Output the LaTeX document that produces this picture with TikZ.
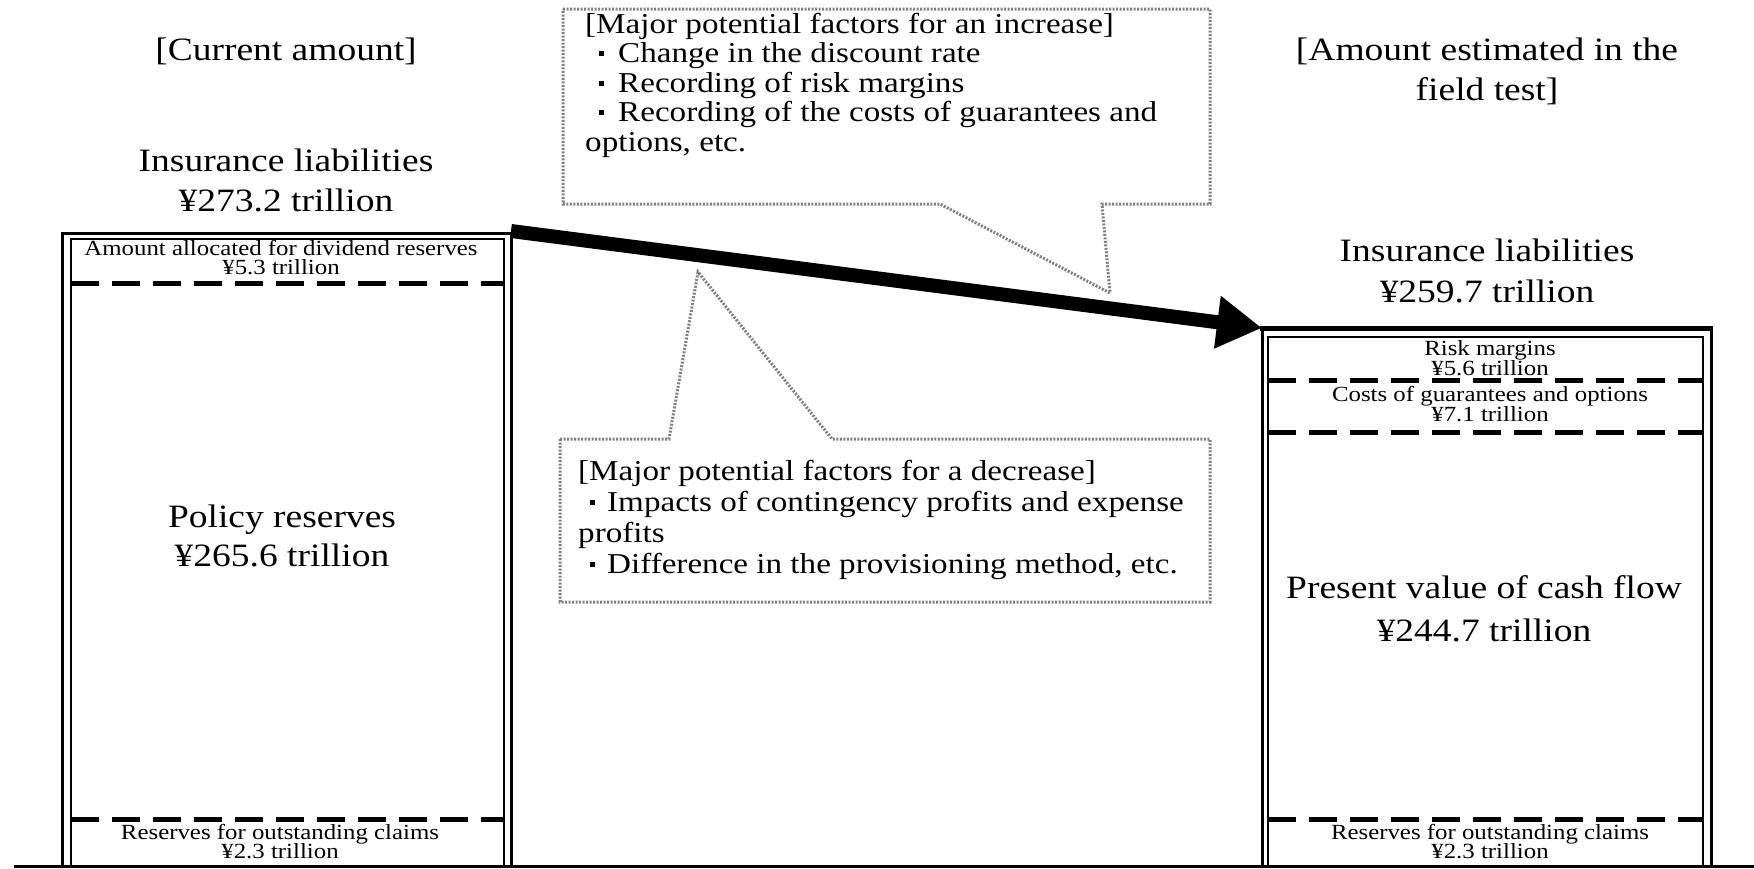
\documentclass[tikz,border=0pt]{standalone}
\usepackage{fontspec}
\setmainfont{Liberation Serif}[FakeStretch=1.15]
\usetikzlibrary{arrows.meta}
\newcommand\bulA{\makebox[33pt][c]{\rule[6.5pt]{4.5pt}{4.5pt}}}
\newcommand\bulB{\makebox[29pt][c]{\rule[6.5pt]{4.5pt}{4.5pt}}}
\begin{document}
\begin{tikzpicture}[x=1pt,y=-1pt,
  bigt/.style={inner sep=0pt, anchor=base, font=\fontsize{32.6}{40}\selectfont},
  smallt/.style={inner sep=0pt, anchor=base, font=\fontsize{21.6}{22}\selectfont},
  callt/.style={inner sep=0pt, anchor=base west, font=\fontsize{28.8}{30}\selectfont},
  outerframe/.style={line width=3pt},
  innerframe/.style={line width=2pt},
  sepline/.style={line width=5pt, dash pattern=on 28pt off 13pt},
  callout/.style={draw=black!50, line width=3pt, dash pattern=on 2pt off 1.5pt},
  bigarrow/.style={line width=14pt, -{Triangle[length=45pt,width=50pt]}},
]
\useasboundingbox (0,0) rectangle (1754,868);

% frames
\draw[outerframe] (62,866) -- (62,233) -- (511,233) -- (511,866);
\draw[innerframe] (71,866) -- (71,239) -- (504,239) -- (504,866);
\draw[outerframe] (1262,866) -- (1262,329) -- (1711,329) -- (1711,866);
\draw[line width=5pt] (1260,328) -- (1713,328);
\draw[innerframe] (1268,866) -- (1268,337) -- (1703,337) -- (1703,866);
\draw[outerframe] (14,866) -- (1754,866);

% separators
\draw[sepline] (71,283) -- (504,283);
\draw[sepline] (71,819) -- (504,819);
\draw[sepline] (1268,380) -- (1703,380);
\draw[sepline] (1268,432) -- (1703,432);
\draw[sepline] (1268,819) -- (1703,819);

% left texts
\node[bigt] (curhdr) at (286,60) {[Current amount]};
\node[bigt] (ilA) at (286,171) {Insurance liabilities};
\node[bigt] (ilAv) at (286,211) {¥273.2 trillion};
\node[smallt] (div) at (281,255) {Amount allocated for dividend reserves};
\node[smallt] (divv) at (281,274) {¥5.3 trillion};
\node[bigt] (pr) at (282,527) {Policy reserves};
\node[bigt] (prv) at (282,566) {¥265.6 trillion};
\node[smallt] (rocA) at (280,839) {Reserves for outstanding claims};
\node[smallt] (rocAv) at (280,858) {¥2.3 trillion};

% right texts
\node[bigt] (esthdrA) at (1487,60) {[Amount estimated in the};
\node[bigt] (esthdrB) at (1487,100) {field test]};
\node[bigt] (ilB) at (1487,261) {Insurance liabilities};
\node[bigt] (ilBv) at (1487,302) {¥259.7 trillion};
\node[smallt] (rm) at (1490,355) {Risk margins};
\node[smallt] (rmv) at (1490,375) {¥5.6 trillion};
\node[smallt] (cg) at (1490,401) {Costs of guarantees and options};
\node[smallt] (cgv) at (1490,421) {¥7.1 trillion};
\node[bigt] (pv) at (1484,598) {Present value of cash flow};
\node[bigt] (pvv) at (1484,641) {¥244.7 trillion};
\node[smallt] (rocB) at (1490,839) {Reserves for outstanding claims};
\node[smallt] (rocBv) at (1490,858) {¥2.3 trillion};

% callouts
\draw[callout] (563,9) -- (1210,9) -- (1210,204) -- (1102,204) -- (1110,293) -- (940,204) -- (563,204) -- cycle;
\draw[callout] (560,439) -- (669,439) -- (698,272) -- (832,439) -- (1210,439) -- (1210,602) -- (560,602) -- cycle;

\node[callt] (incA) at (585,33) {[Major potential factors for an increase]};
\node[callt] (incB) at (585,62) {\bulA Change in the discount rate};
\node[callt] (incC) at (585,92) {\bulA Recording of risk margins};
\node[callt] (incD) at (585,121) {\bulA Recording of the costs of guarantees and};
\node[callt] (incE) at (585,151) {options, etc.};

\node[callt] (decA) at (578,480) {[Major potential factors for a decrease]};
\node[callt] (decB) at (578,511) {\bulB Impacts of contingency profits and expense};
\node[callt] (decC) at (578,542) {profits};
\node[callt] (decD) at (578,573) {\bulB Difference in the provisioning method, etc.};

% big arrow
\coordinate (ltop) at (511,231);
\coordinate (rtop) at (1262,328);
\draw[bigarrow] (ltop) -- (rtop);
\end{tikzpicture}
\end{document}
